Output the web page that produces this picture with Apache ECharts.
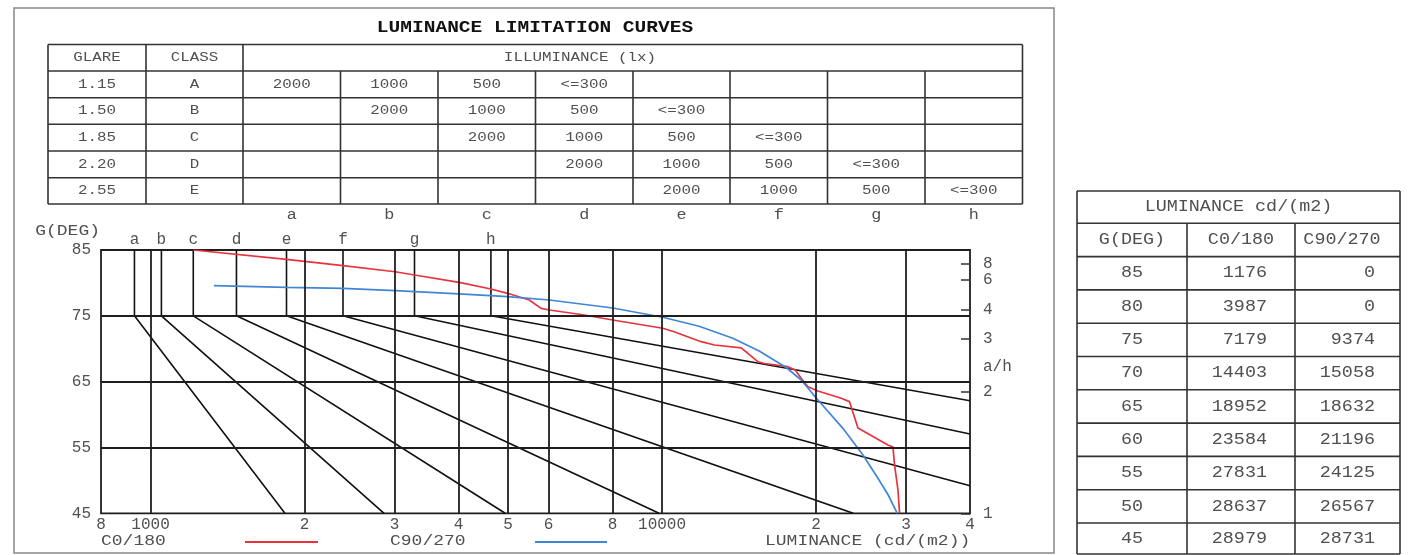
<!DOCTYPE html>
<html><head><meta charset="utf-8">
<script src="https://cdn.jsdelivr.net/npm/echarts@6/dist/echarts.min.js"></script>
<style>html,body{margin:0;padding:0;background:#fff}#chart{width:1411px;height:555px}</style>
</head><body><div id="chart"></div>
<script>
// ---------------- data ----------------
const chartTitle = 'LUMINANCE LIMITATION CURVES';
const glare = ['1.15', '1.50', '1.85', '2.20', '2.55'];
const classes = ['A', 'B', 'C', 'D', 'E'];
const illumRows = [
  ['2000', '1000', '500', '<=300', '', '', '', ''],
  ['', '2000', '1000', '500', '<=300', '', '', ''],
  ['', '', '2000', '1000', '500', '<=300', '', ''],
  ['', '', '', '2000', '1000', '500', '<=300', ''],
  ['', '', '', '', '2000', '1000', '500', '<=300']
];
const letters = ['a', 'b', 'c', 'd', 'e', 'f', 'g', 'h'];
// luminance where each limitation curve is vertical between 85 and 75 deg
const letterLum75 = [930, 1050, 1212, 1472, 1844, 2378, 3281, 4628];
// end of each limitation curve (at 45 deg or at the right edge)
const letterEndLum = [1831, 2861, 4935, 9866, 23650, 40000, 40000, 40000];
const letterEndDeg = [45, 45, 45, 45, 45, 49.2, 57.05, 62.1];

const c0Lum = [1212, 1844, 2378, 3007, 3281, 4012, 4628, 4989, 5501, 5799, 6020, 6943, 8010, 10032, 10556, 11922, 12660, 14276, 14714, 15392, 15857, 17620, 18209, 18709, 19282, 20171, 22402, 23256, 24154, 27646, 28276, 28481, 28921, 29130];
const c0Deg = [85, 83.59, 82.62, 81.70, 81.20, 80.09, 79.08, 78.42, 77.40, 76.14, 75.89, 75.20, 74.37, 73.11, 72.59, 71.07, 70.57, 70.14, 69.31, 68.03, 67.76, 67.27, 66.77, 65.51, 64.23, 63.58, 62.47, 61.96, 57.96, 55.38, 55.07, 52.34, 48.54, 45];
const c90Lum = [1330, 1844, 2378, 3007, 4012, 4989, 6020, 8010, 10032, 11815, 13751, 15482, 17486, 18709, 20171, 22574, 24705, 26428, 27683, 28830];
const c90Deg = [79.58, 79.33, 79.18, 78.82, 78.32, 77.91, 77.40, 76.19, 74.78, 73.41, 71.59, 69.66, 67.15, 65.25, 62.21, 57.91, 53.86, 50.32, 47.78, 45];

const xTickValues = [800, 1000, 2000, 3000, 4000, 5000, 6000, 8000, 10000, 20000, 30000, 40000];
const xTickLabels = ['8', '1000', '2', '3', '4', '5', '6', '8', '10000', '2', '3', '4'];
const xGridValues = [1000, 2000, 3000, 4000, 5000, 6000, 8000, 10000, 20000, 30000];
const yGridValues = [75, 65, 55];
const yTickValues = [45, 55, 65, 75, 85];
const ahLabels = [1, 2, 3, 4, 6, 8];
const ahName = 'a/h';
const ahNameDeg = 67.27;

const tableTitle = 'LUMINANCE cd/(m2)';
const tableHeader = ['G(DEG)', 'C0/180', 'C90/270'];
const tableDeg = [85, 80, 75, 70, 65, 60, 55, 50, 45];
const tableC0 = [1176, 3987, 7179, 14403, 18952, 23584, 27831, 28637, 28979];
const tableC90 = [0, 0, 9374, 15058, 18632, 21196, 24125, 26567, 28731];

// ---------------- layout ----------------
const FONT = 'Liberation Mono';
const TXT = '#505050';
const LINE = '#333';
const g = [];
function text(x, y, s, o) {
  o = o || {};
  g.push({ type: 'text', x: x, y: y, scaleX: o.sx || 1.2, silent: true, z: 10,
    style: { text: s, fontFamily: FONT, fontSize: o.fs || 13, fontWeight: o.fw || 'normal',
      fill: o.color || TXT, align: o.align || 'center', verticalAlign: 'middle' } });
}
function seg(x1, y1, x2, y2, color, w) {
  g.push({ type: 'line', silent: true, z: 5, shape: { x1: x1, y1: y1, x2: x2, y2: y2 },
    style: { stroke: color || LINE, lineWidth: w || 1.6 } });
}
// outer frame
g.push({ type: 'rect', silent: true, shape: { x: 14, y: 8, width: 1040, height: 545 },
  style: { fill: 'none', stroke: '#888', lineWidth: 1.5 } });
// title
text(535, 28, chartTitle, { fs: 16, fw: 'bold', color: '#111', sx: 1.22 });

// top table
const tX = [48, 146, 243, 340.5, 438, 535.5, 633, 730, 827.5, 925, 1022.5];
const tY = [44.5, 71, 97.7, 124.3, 151, 177.7, 204];
tY.forEach(y => seg(tX[0], y, tX[10], y));
seg(tX[0], tY[0], tX[0], tY[6]);
seg(tX[1], tY[0], tX[1], tY[6]);
seg(tX[2], tY[0], tX[2], tY[6]);
seg(tX[10], tY[0], tX[10], tY[6]);
for (let i = 3; i < 10; i++) seg(tX[i], tY[1], tX[i], tY[6]);
const hy = (tY[0] + tY[1]) / 2;
text((tX[0] + tX[1]) / 2, hy, 'GLARE', { sx: 1.22 });
text((tX[1] + tX[2]) / 2, hy, 'CLASS', { sx: 1.22 });
text(580, hy, 'ILLUMINANCE (lx)', { sx: 1.22 });
for (let r = 0; r < 5; r++) {
  const y = (tY[r + 1] + tY[r + 2]) / 2;
  text((tX[0] + tX[1]) / 2, y, glare[r], { sx: 1.22 });
  text((tX[1] + tX[2]) / 2, y, classes[r], { sx: 1.22 });
  illumRows[r].forEach((s, c) => { if (s) text((tX[c + 2] + tX[c + 3]) / 2, y, s, { sx: 1.22 }); });
}
letters.forEach((s, c) => text((tX[c + 2] + tX[c + 3]) / 2, 215, s, { fs: 14 }));

// right table
const rX = [1077, 1187, 1295, 1400];
const rY = [191, 223.3, 256.6, 289.9, 323.2, 356.5, 389.8, 423.1, 456.4, 489.7, 523, 554];
rY.forEach(y => seg(rX[0], y, rX[3], y));
seg(rX[0], rY[0], rX[0], rY[11]);
seg(rX[3], rY[0], rX[3], rY[11]);
seg(rX[1], rY[1], rX[1], rY[11]);
seg(rX[2], rY[1], rX[2], rY[11]);
text((rX[0] + rX[3]) / 2, (rY[0] + rY[1]) / 2, tableTitle, { fs: 16, sx: 1.15 });
const hy2 = (rY[1] + rY[2]) / 2;
text(1132, hy2, tableHeader[0], { fs: 16, sx: 1.15 });
text(1241, hy2, tableHeader[1], { fs: 16, sx: 1.15 });
text(1342, hy2, tableHeader[2], { fs: 16, sx: 1.15 });
tableDeg.forEach((d, i) => {
  const y = (rY[i + 2] + rY[i + 3]) / 2;
  text(1132, y, String(d), { fs: 16, sx: 1.15 });
  text(1267, y, String(tableC0[i]), { fs: 16, sx: 1.15, align: 'right' });
  text(1375, y, String(tableC90[i]), { fs: 16, sx: 1.15, align: 'right' });
});

// axis name + legend row
text(100, 231, 'G(DEG)', { fs: 15, align: 'right' });
text(101, 541, 'C0/180', { fs: 15, align: 'left' });
seg(245, 542, 318, 542, '#e8333c', 2);
text(390, 541, 'C90/270', { fs: 15, align: 'left' });
seg(535, 542, 607, 542, '#3f86d6', 2);
text(765, 541, 'LUMINANCE (cd/(m2))', { fs: 15, align: 'left' });

// ---------------- chart ----------------
function pickLabel(vals, labs, v) {
  for (let i = 0; i < vals.length; i++) if (Math.abs(vals[i] - v) <= Math.abs(vals[i]) * 1e-3 + 1e-6) return labs[i];
  return '';
}
const ahPos = ahLabels.map(n => Math.atan(n) * 180 / Math.PI);
const labelStyle = { color: TXT, fontFamily: FONT, fontSize: 16 };

const series = [];
series.push({
  type: 'line', data: [[800, 45]], symbol: 'none', silent: true, lineStyle: { width: 0 },
  markLine: {
    silent: true, symbol: ['none', 'none'], label: { show: false }, animation: false,
    lineStyle: { color: '#1e1e1e', width: 1.8, type: 'solid' },
    data: xGridValues.map(v => ({ xAxis: v })).concat(yGridValues.map(v => ({ yAxis: v })))
  }
});
letters.forEach((s, i) => {
  series.push({
    type: 'line', name: s, symbol: 'none', silent: true, animation: false,
    lineStyle: { color: '#111', width: 1.6 },
    data: [[letterLum75[i], 85], [letterLum75[i], 75], [letterEndLum[i], letterEndDeg[i]]]
  });
});
series.push({
  type: 'line', name: 'C0/180', symbol: 'none', animation: false,
  lineStyle: { color: '#e8333c', width: 1.7 },
  data: c0Lum.map((v, i) => [v, c0Deg[i]])
});
series.push({
  type: 'line', name: 'C90/270', symbol: 'none', animation: false,
  lineStyle: { color: '#3f86d6', width: 1.7 },
  data: c90Lum.map((v, i) => [v, c90Deg[i]])
});

const option = {
  animation: false,
  backgroundColor: '#fff',
  graphic: g,
  grid: { left: 101, top: 250, width: 869, height: 263.3, show: true, borderColor: '#1e1e1e', borderWidth: 1.8 },
  xAxis: [
    { type: 'log', logBase: 10, min: 800, max: 40000, position: 'bottom',
      axisLine: { show: false }, axisTick: { show: false }, splitLine: { show: false },
      axisLabel: Object.assign({ customValues: xTickValues, margin: 3,
        formatter: v => pickLabel(xTickValues, xTickLabels, v) }, labelStyle) },
    { type: 'log', logBase: 10, min: 800, max: 40000, position: 'top',
      axisLine: { show: false }, axisTick: { show: false }, splitLine: { show: false },
      axisLabel: Object.assign({ customValues: letterLum75, margin: 2,
        formatter: v => pickLabel(letterLum75, letters, v) }, labelStyle) }
  ],
  yAxis: [
    { type: 'value', min: 45, max: 85, position: 'left',
      axisLine: { show: false }, axisTick: { show: false }, splitLine: { show: false },
      axisLabel: Object.assign({ customValues: yTickValues, margin: 10 }, labelStyle) },
    { type: 'value', min: 45, max: 85, position: 'right',
      axisLine: { show: false }, splitLine: { show: false },
      axisTick: { show: true, inside: true, length: 9, customValues: ahPos, lineStyle: { color: '#333', width: 1.5 } },
      axisLabel: Object.assign({ customValues: ahPos.concat([ahNameDeg]), margin: 13,
        formatter: v => pickLabel(ahPos.concat([ahNameDeg]), ahLabels.map(String).concat([ahName]), v) }, labelStyle) }
  ],
  series: series
};
const chart = echarts.init(document.getElementById('chart'), null, { renderer: 'canvas' });
chart.setOption(option);
</script></body></html>
